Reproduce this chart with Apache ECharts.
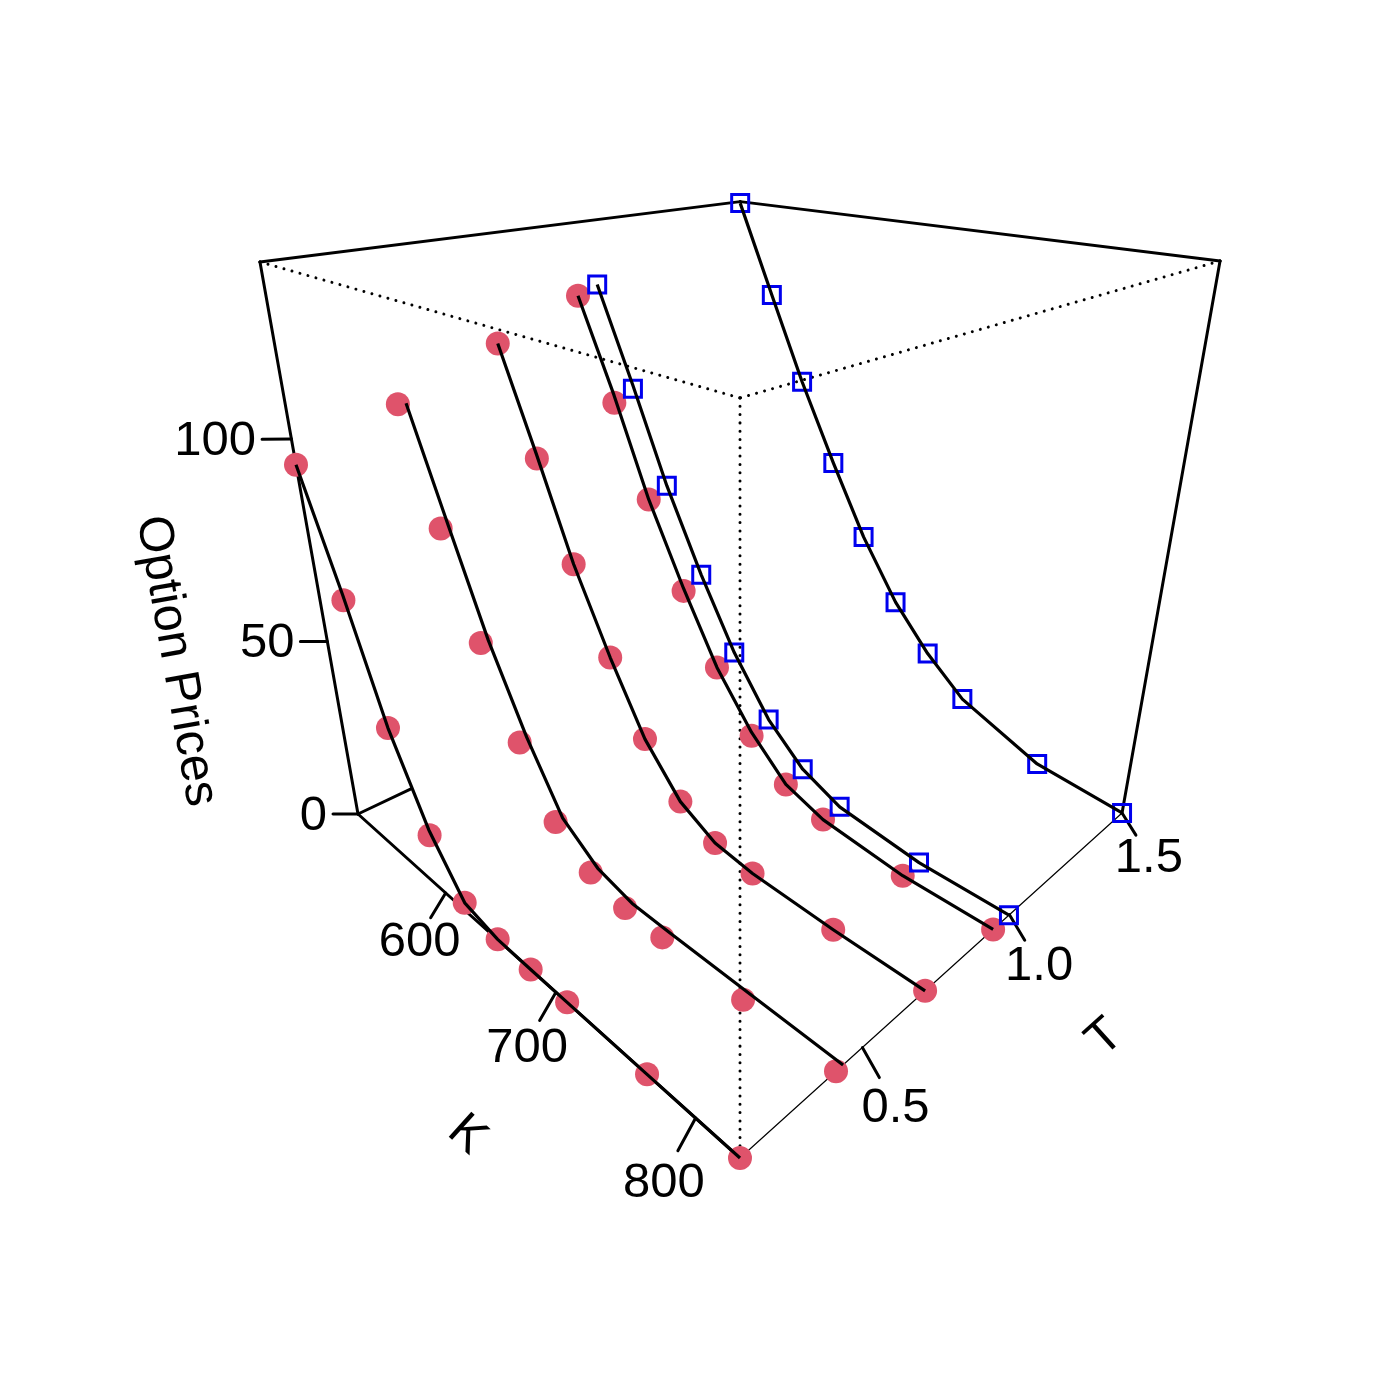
<!DOCTYPE html>
<html>
<head>
<meta charset="utf-8">
<style>html,body{margin:0;padding:0;background:#fff}#c{width:1400px;height:1400px}</style>
<script src="https://cdn.jsdelivr.net/npm/echarts@6/dist/echarts.min.js"></script>
</head>
<body>
<div id="c"></div>
<script>
// ---------- data ----------
const strikes = [502, 532, 561, 591, 620, 650, 679, 709, 768, 827];
const kRange = [502, 827];
const tRange = [0.175, 1.5];
const pRange = [0, 137.6];

const kTicks = [600, 700, 800];
const tTicks = [0.5, 1.0, 1.5];
const pTicks = [0, 50, 100];

const marketT = [0.175, 0.424, 0.696, 0.937, 0.998, 1.5];
const modelT  = [0.175, 0.444, 0.696, 0.937, 0.998, 1.5];

const market1 = [94.1, 65.4, 37.4, 14.4, 2.4, 0.15, 0, 0, 0, 0];
const market2 = [102.3, 75.0, 49.2, 27.2, 10.6, 3.1, 0.3, 0.05, 0, 0];
const market3 = [111.6, 85.2, 60.5, 39.0, 20.6, 8.25, 2.5, 0.77, 0, 0];
const market4 = [119.6, 94.1, 70.8, 48.8, 30.9, 15.8, 6.8, 2.7, 0.03, 0];
const market5 = [121.6, 96.5, 72.9, 51.3, 32.8, 17.8, 8.3, 3.2, 0.17, 0];
const market6 = [137.2, 113.3, 90.5, 69.2, 49.9, 33.5, 21.6, 12.1, 2.7, 0];

const model1 = [94.1, 66.9, 37.4, 15.9, 2.4, 0.15, 0, 0, 0, 0];
const model2 = [102.1, 75.0, 49.2, 27.7, 10.6, 3.1, 0.3, 0.05, 0, 0];
const model3 = [111.6, 86.2, 60.5, 39.0, 20.6, 8.25, 2.5, 0.77, 0, 0];
const model4 = [119.6, 96.1, 70.8, 49.5, 30.9, 16.8, 6.8, 2.7, 0.03, 0];
const model5 = [121.6, 97.5, 72.9, 51.3, 32.8, 17.8, 8.3, 3.2, 0.17, 0];
const model6 = [137.2, 113.3, 90.5, 69.2, 49.9, 33.5, 21.6, 12.1, 2.7, 0];

const redSets = [market1, market2, market3, market4];
const blueSets = [market5, market6];
const modelSets = [model1, model2, model3, model4, model5, model6];

// ---------- perspective view of the K / T / price box ----------
const norm = (x, r) => (x - r[0]) / (r[1] - r[0]);
function view(u, v, w) {
  const d = 1 - 0.3103 * u + 0.3107 * v - 0.2042 * w;
  return [
    740 + (-382 + 382 * u + 382.2 * v) / d,
    (814 - 15.3 * u + 14.6 * v - 605.5 * w) / d
  ];
}
const project = (k, t, p) => view(norm(k, kRange), norm(t, tRange), norm(p, pRange));
const TICK = 0.0327;
const FONT = 'Liberation Sans, Arial, Helvetica, sans-serif';
const FONT_SIZE = 49;

const series = [];
function edge(a, b, style) {
  series.push({
    type: 'line', data: [a, b], symbol: 'none', silent: true, z: 1,
    lineStyle: Object.assign({ color: '#000', width: 3, cap: 'round' }, style)
  });
}

// box corners in normalised box space
const A = view(0, 0, 0), B = view(1, 0, 0), C = view(1, 1, 0);
const E = view(0, 0, 1), F = view(1, 0, 1), G = view(1, 1, 1), H = view(0, 1, 1);
const dotted = { type: [0.01, 8.3], width: 3, cap: 'round' };
edge(E, H, {}); edge(H, G, {}); edge(E, A, {}); edge(G, C, {});
edge(A, B, {});
edge(B, C, { width: 1.2 });
edge(A, view(0, 0.1094, 0), {});
edge(E, F, dotted); edge(G, F, dotted); edge(F, B, dotted);

// ticks and their labels
const kLabels = [];
kTicks.forEach(k => {
  const u = norm(k, kRange);
  edge(view(u, 0, 0), view(u, -TICK, -TICK), {});
  kLabels.push({ name: String(k), value: view(u, -2 * TICK, -2 * TICK) });
});
const tLabels = [];
tTicks.forEach(t => {
  const v = norm(t, tRange);
  edge(view(1, v, 0), view(1 + TICK, v, -TICK), {});
  tLabels.push({ name: t.toFixed(1), value: view(1 + 2 * TICK, v, -2 * TICK) });
});
const pLabels = [];
pTicks.forEach(p => {
  const w = norm(p, pRange);
  edge(view(0, 0, w), view(-TICK, -TICK, w), {});
  pLabels.push({ name: String(p), value: view(-TICK, -TICK, w) });
});

// market prices
redSets.forEach((vals, i) => series.push({
  type: 'scatter', z: 2, silent: true, symbol: 'circle', symbolSize: 24,
  itemStyle: { color: '#DF536B', opacity: 1 },
  data: vals.map((p, j) => project(strikes[j], marketT[i], p))
}));
blueSets.forEach((vals, i) => series.push({
  type: 'scatter', z: 2, silent: true, symbol: 'rect', symbolSize: 17,
  itemStyle: { color: 'transparent', borderColor: '#0000EE', borderWidth: 3, opacity: 1 },
  data: vals.map((p, j) => project(strikes[j], marketT[i + 4], p))
}));

// model curves
modelSets.forEach((vals, i) => series.push({
  type: 'line', z: 3, silent: true, symbol: 'none', smooth: false,
  lineStyle: { color: '#000', width: 3.2, join: 'round' },
  data: vals.map((p, j) => project(strikes[j], modelT[i], p))
}));

// tick label carriers
const centred = (data, offset) => ({
  type: 'scatter', z: 4, silent: true, symbolSize: 0, data,
  itemStyle: { opacity: 1 },
  label: { show: true, position: 'inside', offset, formatter: '{b}', color: '#000', opacity: 1,
           fontFamily: FONT, fontSize: FONT_SIZE, align: 'center', verticalAlign: 'middle' }
});
series.push(centred(kLabels, [4, 0]));
series.push(centred(tLabels, [-1, 0.5]));
series.push({
  type: 'scatter', z: 4, silent: true, symbolSize: 0, data: pLabels,
  itemStyle: { opacity: 1 },
  label: { show: true, position: 'left', distance: 6, offset: [0, 2], formatter: '{b}', color: '#000', opacity: 1,
           fontFamily: FONT, fontSize: FONT_SIZE }
});

const title = (text, x, y, deg) => ({
  type: 'text', x, y, rotation: deg * Math.PI / 180, silent: true,
  style: { text, fill: '#000', font: FONT_SIZE + 'px ' + FONT, textAlign: 'center', textVerticalAlign: 'middle' }
});

const chart = echarts.init(document.getElementById('c'), null, { renderer: 'canvas', width: 1400, height: 1400 });
chart.setOption({
  animation: false,
  backgroundColor: '#fff',
  grid: { left: 0, right: 0, top: 0, bottom: 0 },
  xAxis: { type: 'value', min: 0, max: 1400, show: false },
  yAxis: { type: 'value', min: 0, max: 1400, inverse: true, show: false },
  series,
  graphic: [
    title('K', 467, 1135, -42),
    title('T', 1105, 1038, 42),
    title('Option Prices', 176, 661, -80)
  ]
});
</script>
</body>
</html>
